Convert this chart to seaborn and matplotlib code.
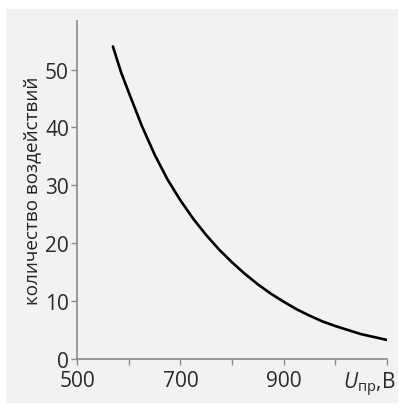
import pandas as pd
import seaborn as sns
import matplotlib.pyplot as plt
import matplotlib.transforms as mtransforms
from matplotlib.patches import Rectangle

# значения
u_pr = [569, 585, 600, 625, 650, 675, 700, 725, 750, 775, 800, 825,
        850, 875, 900, 925, 950, 975, 1000, 1025, 1050, 1075, 1100]
counts = [54.0, 49.5, 46.0, 40.3, 35.3, 31.0, 27.4, 24.2, 21.4, 18.9, 16.7, 14.7,
          12.9, 11.3, 9.9, 8.6, 7.5, 6.5, 5.7, 5.0, 4.3, 3.8, 3.3]
x_ticks = [500, 600, 700, 800, 900, 1000, 1100]
x_labels = ["500", "", "700", "", "900", "", r"$U_{\mathrm{пр}}$,В"]
y_ticks = [0, 10, 20, 30, 40, 50]
y_label = "количество воздействий"


def set_config():
    sns.set_theme(style="ticks")
    plt.rcParams["font.family"] = ["Open Sans", "DejaVu Sans"]
    plt.rcParams["mathtext.fontset"] = "custom"
    plt.rcParams["mathtext.rm"] = "Open Sans"
    plt.rcParams["mathtext.it"] = "Open Sans:italic"


def main():
    set_config()
    df = pd.DataFrame({"u": u_pr, "n": counts})

    fig = plt.figure(figsize=(3.98, 4.06), dpi=100)
    fig.patch.set_facecolor("white")
    # серая подложка
    fig.patches.append(Rectangle((6 / 398, 2 / 406), 392 / 398, 394 / 406,
                                 transform=fig.transFigure, facecolor="#f2f2f2",
                                 edgecolor="none", zorder=-10))
    ax = fig.add_axes([77.3 / 398, 46 / 406, 309.5 / 398, 338 / 406])
    ax.set_facecolor("none")

    sns.lineplot(data=df, x="u", y="n", color="black", linewidth=1.9, ax=ax)

    ax.set_xlim(500, 1100)
    ax.set_ylim(0, 58.4)
    ax.set_xticks(x_ticks)
    ax.set_xticklabels(x_labels)
    ax.set_yticks(y_ticks)
    ax.set_xlabel("")
    ax.set_ylabel(y_label, fontsize=13.6, color="#222222", labelpad=3)

    sns.despine(ax=ax)
    for side in ["left", "bottom"]:
        ax.spines[side].set_color("#8a8a8a")
        ax.spines[side].set_linewidth(1.2)
    ax.tick_params(axis="both", colors="#8a8a8a", length=4, width=1.0,
                   labelsize=15, labelcolor="#2a2a2a", pad=2)
    ax.tick_params(axis="x", pad=4)

    # подпись оси на месте последнего деления, прижата вправо
    last = ax.get_xticklabels()[-1]
    last.set_horizontalalignment("right")
    last.set_transform(last.get_transform() +
                       mtransforms.ScaledTranslation(0.09, 0, fig.dpi_scale_trans))

    fig.savefig("out.png", dpi=100)


if __name__ == "__main__":
    main()
